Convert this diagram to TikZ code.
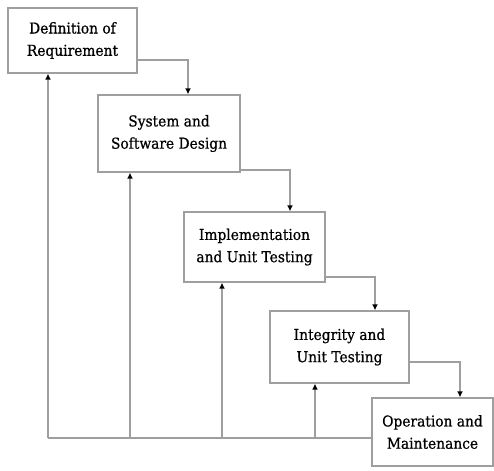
\documentclass[tikz,border=0pt]{standalone}
\usepackage{fontspec}
\setmainfont{DejaVu Serif}
\usetikzlibrary{arrows.meta}

\tikzset{
    phase/.style={draw=gray!75, line width=1.2pt, fill=white, align=center, inner sep=0pt,
        font=\fontsize{12.8}{19}\selectfont\addfontfeature{FakeBold=0.7, FakeStretch=0.92}},
    flow/.style={gray!75, line width=1.1pt, -{Latex[black, length=5pt, width=5pt]}},
    line/.style={gray!75, line width=1.1pt}
}

\begin{document}
\begin{tikzpicture}[x=0.03cm, y=-0.03cm]
        \useasboundingbox (0, 0) rectangle (494, 471);

        % Phases
        \node[phase, minimum width=129*0.03cm, minimum height=65*0.03cm] (req) at (72.5, 40.5) {Definition of\\Requirement};
        \node[phase, minimum width=142*0.03cm, minimum height=77*0.03cm] (design) at (169, 133.5) {System and\\Software Design};
        \node[phase, minimum width=141*0.03cm, minimum height=70*0.03cm] (impl) at (254.5, 247) {Implementation\\and Unit Testing};
        \node[phase, minimum width=139*0.03cm, minimum height=72*0.03cm] (integ) at (339.5, 347) {Integrity and\\Unit Testing};
        \node[phase, minimum width=121*0.03cm, minimum height=68*0.03cm] (oper) at (432.5, 432) {Operation and\\Maintenance};

        % Bends of the cascade
        \coordinate (k1) at (188, 60);
        \coordinate (k2) at (290, 170);
        \coordinate (k3) at (375, 277);
        \coordinate (k4) at (460, 362);

        \draw[flow] (req.east |- k1) -- (k1) -- (design.north -| k1);
        \draw[flow] (design.east |- k2) -- (k2) -- (impl.north -| k2);
        \draw[flow] (impl.east |- k3) -- (k3) -- (integ.north -| k3);
        \draw[flow] (integ.east |- k4) -- (k4) -- (oper.north -| k4);

        % Feedback
        \coordinate (f1) at (48, 438);
        \coordinate (f2) at (130, 438);
        \coordinate (f3) at (222, 438);
        \coordinate (f4) at (315, 438);

        \draw[line] (oper.west |- f1) -- (f1);
        \draw[flow] (f1) -- (req.south -| f1);
        \draw[flow] (f2) -- (design.south -| f2);
        \draw[flow] (f3) -- (impl.south -| f3);
        \draw[flow] (f4) -- (integ.south -| f4);
    \end{tikzpicture}
\end{document}
